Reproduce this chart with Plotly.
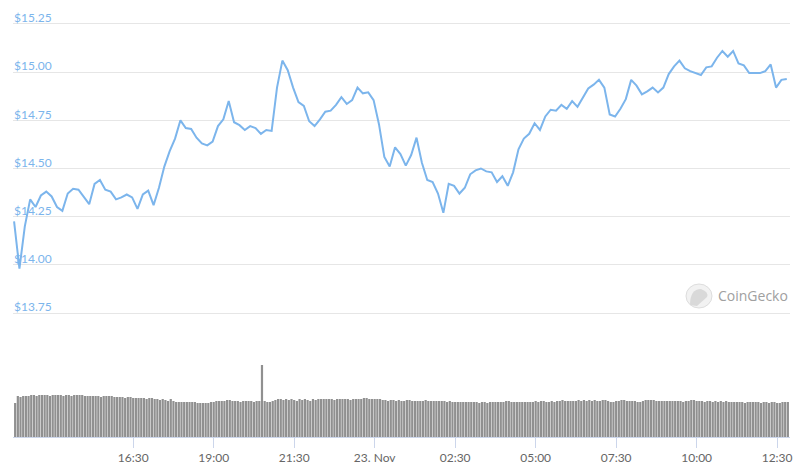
import pandas as pd
import plotly.graph_objects as go

# ---------------- data ----------------
price_start = "2020-11-22 12:48"
price_step_min = 10
prices = [
    14.226, 13.98, 14.20, 14.34, 14.30, 14.36, 14.38, 14.355, 14.30, 14.28,
    14.37, 14.395, 14.39, 14.35, 14.315, 14.42, 14.44, 14.39, 14.38, 14.34,
    14.35, 14.365, 14.35, 14.29, 14.365, 14.385, 14.31, 14.40, 14.51, 14.59,
    14.655, 14.75, 14.71, 14.705, 14.66, 14.63, 14.62, 14.64, 14.72, 14.755,
    14.85, 14.74, 14.725, 14.70, 14.72, 14.71, 14.68, 14.70, 14.695, 14.92,
    15.06, 15.01, 14.92, 14.845, 14.825, 14.745, 14.72, 14.755, 14.795, 14.80,
    14.83, 14.87, 14.835, 14.855, 14.92, 14.89, 14.895, 14.855, 14.73, 14.56,
    14.51, 14.61, 14.575, 14.515, 14.57, 14.66, 14.53, 14.44, 14.43, 14.37,
    14.27, 14.42, 14.41, 14.37, 14.40, 14.47, 14.49, 14.50, 14.485, 14.48,
    14.43, 14.46, 14.41, 14.48, 14.60, 14.655, 14.68, 14.735, 14.70, 14.77,
    14.805, 14.80, 14.83, 14.81, 14.85, 14.82, 14.865, 14.915, 14.935, 14.96,
    14.92, 14.78, 14.77, 14.81, 14.86, 14.96, 14.93, 14.885, 14.90, 14.92,
    14.895, 14.92, 14.99, 15.03, 15.06, 15.02, 15.005, 14.995, 14.985, 15.025,
    15.03, 15.075, 15.11, 15.08, 15.11, 15.045, 15.035, 14.995, 14.995, 14.995,
    15.005, 15.04, 14.92, 14.96, 14.965,
]

volume_start = "2020-11-22 12:50"
volume_step_min = 5
volumes = [
    3.4, 4.1, 4.0, 4.1, 4.1, 4.1, 4.2, 4.2, 4.1, 4.2, 4.2, 4.2,
    4.2, 4.1, 4.2, 4.2, 4.2, 4.2, 4.1, 4.2, 4.2, 4.1, 4.2, 4.2,
    4.2, 4.2, 4.1, 4.1, 4.1, 4.1, 4.1, 4.1, 4.0, 4.1, 4.1, 4.1,
    4.1, 4.0, 4.0, 4.0, 4.0, 3.9, 4.0, 4.0, 3.9, 3.9, 3.9, 3.9,
    3.9, 3.8, 3.9, 3.9, 3.8, 3.8, 3.7, 3.8, 3.7, 3.6, 3.8, 3.6,
    3.5, 3.5, 3.5, 3.5, 3.5, 3.5, 3.5, 3.5, 3.4, 3.4, 3.4, 3.4,
    3.4, 3.5, 3.5, 3.6, 3.6, 3.6, 3.6, 3.7, 3.7, 3.6, 3.6, 3.6,
    3.5, 3.6, 3.6, 3.6, 3.6, 3.5, 3.6, 3.6, 7.2, 3.6, 3.5, 3.5,
    3.6, 3.7, 3.8, 3.8, 3.7, 3.8, 3.7, 3.8, 3.7, 3.6, 3.8, 3.7,
    3.8, 3.7, 3.6, 3.8, 3.7, 3.8, 3.8, 3.8, 3.8, 3.8, 3.8, 3.7,
    3.8, 3.8, 3.8, 3.8, 3.8, 3.7, 3.8, 3.8, 3.8, 3.8, 3.9, 3.9,
    3.8, 3.8, 3.8, 3.8, 3.8, 3.7, 3.7, 3.6, 3.7, 3.7, 3.6, 3.7,
    3.6, 3.6, 3.7, 3.7, 3.6, 3.6, 3.6, 3.6, 3.6, 3.7, 3.6, 3.6,
    3.6, 3.6, 3.6, 3.6, 3.6, 3.5, 3.6, 3.5, 3.5, 3.5, 3.5, 3.5,
    3.5, 3.5, 3.5, 3.5, 3.5, 3.4, 3.5, 3.5, 3.4, 3.5, 3.5, 3.5,
    3.5, 3.5, 3.5, 3.6, 3.6, 3.5, 3.5, 3.5, 3.5, 3.5, 3.5, 3.5,
    3.5, 3.5, 3.6, 3.5, 3.6, 3.6, 3.5, 3.5, 3.6, 3.5, 3.6, 3.6,
    3.7, 3.6, 3.6, 3.6, 3.6, 3.6, 3.7, 3.6, 3.7, 3.6, 3.7, 3.6,
    3.7, 3.6, 3.6, 3.7, 3.7, 3.6, 3.5, 3.5, 3.6, 3.6, 3.7, 3.7,
    3.6, 3.6, 3.6, 3.6, 3.5, 3.5, 3.6, 3.7, 3.7, 3.7, 3.7, 3.6,
    3.6, 3.6, 3.6, 3.6, 3.6, 3.6, 3.6, 3.6, 3.6, 3.5, 3.6, 3.6,
    3.7, 3.7, 3.6, 3.6, 3.6, 3.5, 3.6, 3.6, 3.5, 3.6, 3.5, 3.6,
    3.5, 3.6, 3.5, 3.5, 3.5, 3.5, 3.5, 3.5, 3.4, 3.5, 3.5, 3.5,
    3.5, 3.5, 3.4, 3.5, 3.5, 3.4, 3.5, 3.5, 3.4, 3.4, 3.5, 3.5,
    3.5,
]

price_ticks = [13.75, 14.00, 14.25, 14.50, 14.75, 15.00, 15.25]
price_tick_labels = ["$13.75", "$14.00", "$14.25", "$14.50", "$14.75", "$15.00", "$15.25"]

time_ticks = ["2020-11-22 16:30", "2020-11-22 19:00", "2020-11-22 21:30", "2020-11-23 00:00",
              "2020-11-23 02:30", "2020-11-23 05:00", "2020-11-23 07:30", "2020-11-23 10:00",
              "2020-11-23 12:30"]
time_tick_labels = ["16:30", "19:00", "21:30", "23. Nov", "02:30", "05:00", "07:30", "10:00", "12:30"]

# ---------------- figure ----------------
price_times = pd.date_range(price_start, periods=len(prices), freq=f"{price_step_min}min")
volume_times = pd.date_range(volume_start, periods=len(volumes), freq=f"{volume_step_min}min")

FONT = "Lato, Open Sans, Arial, sans-serif"

fig = go.Figure()
fig.add_trace(go.Scatter(
    x=price_times, y=prices, mode="lines",
    line=dict(color="#7cb5ec", width=2),
    xaxis="x", yaxis="y", showlegend=False, hoverinfo="skip",
))
fig.add_trace(go.Bar(
    x=volume_times, y=volumes,
    marker=dict(color="#909090", line=dict(width=0)),
    xaxis="x", yaxis="y2", showlegend=False, hoverinfo="skip",
))

# the page body has an 8px margin, so the figure is 800x460 and sits at (8, 8)
fig.update_layout(
    width=800, height=460,
    margin=dict(l=5, r=18, t=0, b=31, autoexpand=False),
    paper_bgcolor="white", plot_bgcolor="white",
    bargap=0.18,
    hovermode=False,
    font=dict(family=FONT, size=12, color="#666666"),
    xaxis=dict(
        anchor="y2",
        range=["2020-11-22 12:46", "2020-11-23 12:54"],
        tickvals=time_ticks, ticktext=time_tick_labels,
        showgrid=False, zeroline=False,
        showline=True, linecolor="#ccd6eb", linewidth=1,
        ticks="outside", ticklen=10, tickcolor="#ccd6eb", tickwidth=1,
        tickfont=dict(family=FONT, size=12, color="#666666"),
        automargin=False,
        fixedrange=True,
    ),
    yaxis=dict(
        domain=[0.2666, 1.0],
        range=[13.70, 15.333],
        tickvals=price_ticks, ticktext=price_tick_labels,
        showgrid=True, gridcolor="#e6e6e6", gridwidth=1,
        zeroline=False, showline=False,
        ticks="", ticklabelposition="inside",
        ticklabelshift=-6, ticklabelstandoff=-2,
        tickfont=dict(family=FONT, size=12, color="#7cb5ec"),
        automargin=False,
        fixedrange=True,
    ),
    yaxis2=dict(
        domain=[0.0, 0.26],
        range=[0, 11.154],
        showgrid=False, zeroline=False, showline=False,
        showticklabels=False, ticks="",
        automargin=False,
        fixedrange=True,
    ),
)

# CoinGecko watermark (paper coords relative to plot area 13..790 x 8..437 on the page)
PW, PH = 777.0, 429.0
fig.add_shape(type="circle", xref="paper", yref="paper",
              x0=(686 - 13) / PW, x1=(712 - 13) / PW,
              y0=(437 - 308) / PH, y1=(437 - 284) / PH,
              fillcolor="#f2f2f2", line=dict(color="#dddddd", width=1), layer="above")
fig.add_shape(type="path", xref="paper", yref="paper",
              path="M {:.4f},{:.4f} Q {:.4f},{:.4f} {:.4f},{:.4f} Q {:.4f},{:.4f} {:.4f},{:.4f} L {:.4f},{:.4f} Z".format(
                  (690 - 13) / PW, (437 - 305) / PH,
                  (690 - 13) / PW, (437 - 289) / PH,
                  (701 - 13) / PW, (437 - 289) / PH,
                  (709 - 13) / PW, (437 - 292) / PH,
                  (707 - 13) / PW, (437 - 297) / PH,
                  (697 - 13) / PW, (437 - 306) / PH),
              fillcolor="#d9d9d9", line=dict(width=0), layer="above")
fig.add_annotation(xref="paper", yref="paper",
                   x=(716 - 13) / PW, y=(437 - 295) / PH,
                   xanchor="left", yanchor="middle", showarrow=False,
                   text="CoinGecko", font=dict(family="Open Sans, Arial, sans-serif", size=14, color="#a0a0a0"))

fig.write_html("out.html", config={"displayModeBar": False})
